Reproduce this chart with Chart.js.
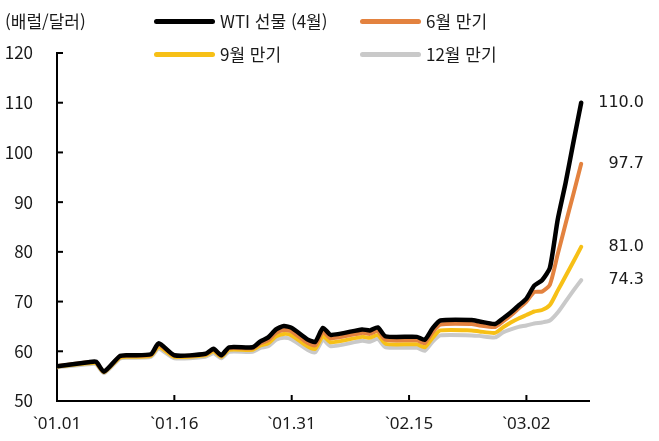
<!DOCTYPE html>
<html lang="ko">
<head>
<meta charset="utf-8">
<script src="https://cdn.jsdelivr.net/npm/chart.js@4.4.1/dist/chart.umd.min.js"></script>
<style>
  body { margin: 0; background: #fff; }
  #wrap { position: relative; width: 659px; height: 441px; font-family: "Noto Sans CJK KR", "Noto Sans", sans-serif; color: #1a1a1a; }
  #unit { position: absolute; left: 5px; top: 8px; font-size: 17px; line-height: 26px; }
  .leg { position: absolute; display: flex; align-items: center; font-size: 17px; line-height: 26px; }
  .leg span.sw { display: inline-block; width: 61px; height: 5px; border-radius: 3px; margin-right: 5px; }
</style>
</head>
<body>
<div id="wrap">
  <canvas id="chart"></canvas>
  <div id="unit">(배럴/달러)</div>
  <div id="legend"></div>
</div>
<script>
// days counted from 01.01
const days = [0, 4, 5, 6, 8, 9, 12, 13, 15, 19, 20, 21, 22, 25, 26, 27, 28, 29, 30, 32, 33, 34, 35,
  39, 40, 41, 42, 46, 47, 48, 49, 53, 54, 56, 57, 58, 59, 60, 61, 62, 63, 64, 65, 66, 67];

const wti = [57.0, 57.8, 57.9, 55.9, 59.0, 59.2, 59.4, 61.6, 59.2, 59.5, 60.5, 59.2, 60.8, 60.8, 62.0, 62.8, 64.4, 65.1, 64.7, 62.4, 61.9, 64.7, 63.3,
  64.4, 64.2, 64.8, 63.0, 62.9, 62.3, 64.6, 66.2, 66.3, 66.0, 65.5, 66.6, 67.8, 69.2, 70.6, 73.2, 74.3, 76.8, 86.5, 93.8, 102.0, 110.0];
const jun = [57.0, 57.8, 57.8, 55.9, 58.9, 59.1, 59.3, 61.3, 59.1, 59.4, 60.3, 59.1, 60.6, 60.6, 61.6, 62.2, 63.7, 64.3, 64.0, 61.7, 61.2, 63.9, 62.6,
  63.7, 63.5, 64.1, 62.3, 62.2, 61.6, 63.8, 65.4, 65.5, 65.2, 64.9, 66.0, 67.2, 68.6, 70.0, 71.9, 72.0, 73.4, 79.5, 85.6, 91.6, 97.7];
const sep = [56.9, 57.6, 57.6, 55.8, 58.7, 58.9, 59.1, 60.9, 58.9, 59.2, 60.0, 58.9, 60.3, 60.3, 61.2, 61.6, 63.0, 63.5, 63.2, 61.0, 60.5, 63.1, 61.8,
  62.9, 62.7, 63.3, 61.5, 61.4, 60.8, 62.7, 64.2, 64.2, 64.0, 63.7, 64.8, 65.8, 66.6, 67.3, 68.0, 68.3, 69.3, 72.2, 75.1, 78.0, 81.0];
const dec = [56.8, 57.4, 57.4, 55.6, 58.5, 58.7, 58.9, 60.5, 58.6, 58.9, 59.6, 58.6, 59.9, 59.9, 60.7, 61.0, 62.3, 62.7, 62.4, 60.3, 59.8, 62.3, 61.0,
  62.1, 61.9, 62.5, 60.8, 60.7, 60.1, 61.9, 63.2, 63.2, 63.1, 62.8, 63.8, 64.4, 64.9, 65.2, 65.6, 65.8, 66.2, 67.8, 70.0, 72.2, 74.3];

const seriesNames = ["WTI 선물 (4월)", "6월 만기", "9월 만기", "12월 만기"];
const seriesColors = ["#000000", "#E3823F", "#F7C016", "#C9C9C9"];
const seriesValues = [wti, jun, sep, dec];

const tickDays = [0, 15, 30, 45, 60];
const tickLabels = ["`01.01", "`01.16", "`01.31", "`02.15", "`03.02"];

// legend (2 x 2)
const legendDiv = document.getElementById("legend");
const legendPos = [[154, 8], [360, 8], [154, 41], [360, 41]];
seriesNames.forEach((name, i) => {
  const item = document.createElement("div");
  item.className = "leg";
  item.style.left = legendPos[i][0] + "px";
  item.style.top = legendPos[i][1] + "px";
  item.innerHTML = `<span class="sw" style="background:${seriesColors[i]}"></span>${name}`;
  legendDiv.appendChild(item);
});

const innerTicks = {
  id: "innerTicks",
  afterDraw(chart) {
    const { ctx, chartArea, scales } = chart;
    ctx.save();
    ctx.strokeStyle = "#000";
    ctx.lineWidth = 2;
    scales.y.ticks.forEach(t => {
      const y = scales.y.getPixelForValue(t.value);
      ctx.beginPath();
      ctx.moveTo(chartArea.left, y);
      ctx.lineTo(chartArea.left + 6, y);
      ctx.stroke();
    });
    scales.x.ticks.forEach(t => {
      const x = scales.x.getPixelForValue(t.value);
      ctx.beginPath();
      ctx.moveTo(x, chartArea.bottom);
      ctx.lineTo(x, chartArea.bottom - 6);
      ctx.stroke();
    });
    ctx.restore();
  }
};

const endLabels = {
  id: "endLabels",
  afterDatasetsDraw(chart) {
    const { ctx, chartArea } = chart;
    ctx.save();
    ctx.font = '16px "DejaVu Sans"';
    ctx.fillStyle = "#1a1a1a";
    ctx.textAlign = "right";
    ctx.textBaseline = "middle";
    chart.data.datasets.forEach((ds, i) => {
      const pts = chart.getDatasetMeta(i).data;
      const last = pts[pts.length - 1];
      const v = ds.data[ds.data.length - 1].y;
      ctx.fillText(v.toFixed(1), chartArea.right + 55, last.y);
    });
    ctx.restore();
  }
};

new Chart(document.getElementById("chart"), {
  type: "line",
  data: {
    datasets: seriesValues.map((vals, i) => ({
      label: seriesNames[i],
      data: vals.map((v, k) => ({ x: days[k], y: v })),
      borderColor: seriesColors[i],
      borderWidth: i === 0 ? 4.5 : 4,
      borderJoinStyle: "round",
      borderCapStyle: "round",
      pointRadius: 0,
      tension: 0.2,
      fill: false
    }))
  },
  options: {
    responsive: true,
    maintainAspectRatio: false,
    animation: false,
    layout: { padding: { left: 0, top: 53, right: 70, bottom: 0 } },
    plugins: { legend: { display: false }, tooltip: { enabled: false } },
    scales: {
      x: {
        type: "linear",
        min: 0,
        max: 68,
        grid: { display: false },
        border: { display: true, color: "#000", width: 2 },
        afterBuildTicks: scale => { scale.ticks = tickDays.map(v => ({ value: v })); },
        afterFit: scale => { scale.height = 40; },
        ticks: {
          padding: 5,
          maxRotation: 0,
          autoSkip: false,
          color: "#1a1a1a",
          font: { family: '"Noto Sans"', size: 17 },
          callback: value => tickLabels[tickDays.indexOf(value)]
        }
      },
      y: {
        min: 50,
        max: 120,
        grid: { display: false },
        border: { display: true, color: "#000", width: 2 },
        afterFit: scale => { scale.width = 57; },
        ticks: {
          stepSize: 10,
          padding: 16,
          color: "#1a1a1a",
          font: { family: '"Noto Sans CJK KR"', size: 17 }
        }
      }
    }
  },
  plugins: [innerTicks, endLabels]
});
</script>
</body>
</html>
